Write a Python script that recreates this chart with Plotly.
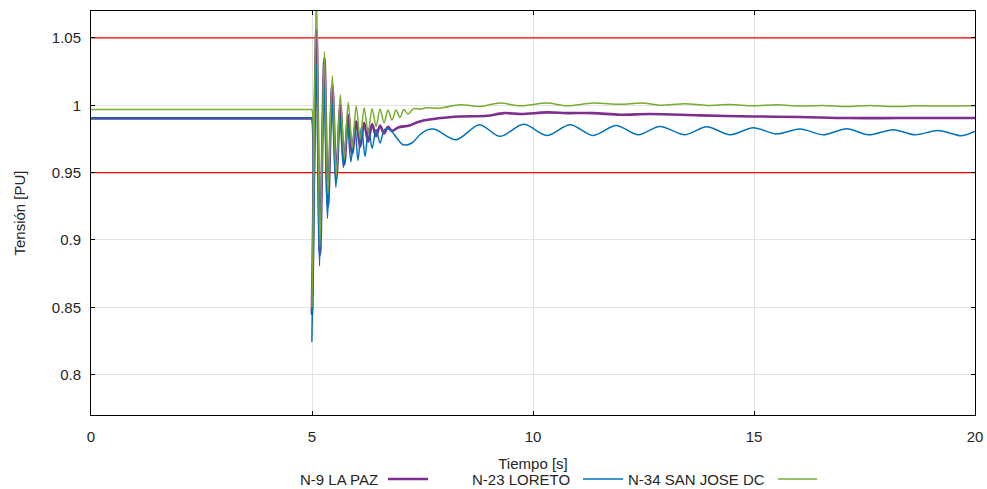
import plotly.graph_objects as go

# Bus voltage response (p.u.) after a disturbance at t = 5 s: (time [s], voltage [PU])
la_paz = [
    (0.0, 0.9903), (2.5, 0.9903), (4.9, 0.9903), (4.97, 0.9903), (4.995, 0.9903),
    (5.0, 0.845), (5.10, 1.056), (5.18, 0.889),
    (5.28, 1.035), (5.36, 0.925), (5.46, 1.015), (5.55, 0.945), (5.64, 1.000),
    (5.73, 0.956), (5.82, 0.993), (5.91, 0.964), (6.00, 0.988), (6.09, 0.969),
    (6.18, 0.987), (6.27, 0.973), (6.36, 0.986), (6.45, 0.977), (6.54, 0.985),
    (6.63, 0.979), (6.72, 0.984), (6.81, 0.981), (6.95, 0.9835), (7.20, 0.985),
    (7.44, 0.988), (7.90, 0.9905), (8.35, 0.9917), (8.96, 0.9922), (9.34, 0.9942),
    (9.73, 0.9935), (10.32, 0.9947), (10.77, 0.9942), (11.36, 0.9942), (11.97, 0.9930),
    (12.65, 0.9935), (13.78, 0.9925), (14.98, 0.9917), (16.04, 0.9913), (17.10, 0.9905),
    (18.30, 0.9905), (20.0, 0.9905),
]

loreto = [
    (0.0, 0.9905), (2.5, 0.9905), (4.9, 0.9905), (4.97, 0.9905), (4.995, 0.9905),
    (5.0, 0.8243), (5.10, 1.030), (5.17, 0.8806),
    (5.27, 1.018), (5.35, 0.916), (5.45, 1.004), (5.54, 0.939), (5.63, 0.992),
    (5.71, 0.9537), (5.80, 0.987), (5.88, 0.958), (5.97, 0.985), (6.04, 0.959),
    (6.12, 0.984), (6.20, 0.962), (6.28, 0.983), (6.36, 0.968), (6.45, 0.982),
    (6.54, 0.972), (6.64, 0.982), (6.76, 0.9819), (6.92, 0.9757), (7.06, 0.9707),
    (7.26, 0.9720), (7.44, 0.9781), (7.62, 0.9819), (7.78, 0.9822), (8.26, 0.9744),
    (8.79, 0.9856), (9.25, 0.9769), (9.79, 0.9859), (10.31, 0.9776), (10.84, 0.9856),
    (11.36, 0.9776), (11.88, 0.9850), (12.38, 0.9781), (12.87, 0.9843), (13.44, 0.9781),
    (13.93, 0.9841), (14.46, 0.9781), (14.98, 0.9833), (15.51, 0.9787), (16.04, 0.9824),
    (16.57, 0.9781), (17.10, 0.9826), (17.59, 0.9781), (18.15, 0.9819), (18.64, 0.9781),
    (19.17, 0.9813), (19.70, 0.9774), (20.0, 0.9807),
]

san_jose = [
    (0.0, 0.9968), (2.5, 0.9968), (4.9, 0.9968), (4.97, 0.9968), (4.995, 0.9968),
    (5.0, 0.8498), (5.10, 1.085), (5.18, 0.8954),
    (5.28, 1.040), (5.36, 0.9337), (5.46, 1.022), (5.55, 0.947), (5.64, 1.008),
    (5.73, 0.960), (5.82, 1.002), (5.91, 0.968), (6.00, 0.9995), (6.09, 0.975),
    (6.18, 0.998), (6.27, 0.980), (6.36, 0.9975), (6.45, 0.984), (6.54, 0.997),
    (6.63, 0.987), (6.72, 0.9965), (6.81, 0.989), (6.90, 0.9965), (6.99, 0.991),
    (7.08, 0.9968), (7.17, 0.9935), (7.30, 0.9975), (7.44, 0.9972), (7.60, 0.9982),
    (7.90, 0.9979), (8.35, 1.0004), (8.80, 0.9991), (9.25, 1.0016), (9.71, 0.9996),
    (10.32, 1.0016), (10.77, 0.9996), (11.36, 1.0016), (11.97, 1.0007), (12.47, 1.0016),
    (12.87, 1.0001), (13.44, 1.0011), (13.94, 0.9999), (14.46, 1.0006), (14.98, 0.9996),
    (15.52, 1.0004), (16.04, 0.9994), (16.56, 0.9999), (17.10, 0.9991), (17.62, 0.9999),
    (18.14, 0.9991), (18.69, 0.9996), (19.21, 0.9994), (19.95, 0.9996), (20.0, 0.9996),
]

# Allowed voltage band
limits = [0.95, 1.05]
t_span = [0.0, 20.0]

series_names = ["N-9 LA PAZ", "N-23 LORETO", "N-34 SAN JOSE DC"]
series_data = [la_paz, loreto, san_jose]
series_colors = ["#7E2F8E", "#0072BD", "#77AC30"]
series_widths = [2.6, 1.5, 1.5]

x_ticks = [0, 5, 10, 15, 20]
y_ticks = [0.8, 0.85, 0.9, 0.95, 1.0, 1.05]
y_tick_text = ["0.8", "0.85", "0.9", "0.95", "1", "1.05"]

fig = go.Figure()

for lim in limits:
    fig.add_trace(go.Scatter(
        x=t_span, y=[lim, lim], mode="lines",
        line=dict(color="#FF0000", width=1.2), showlegend=False, hoverinfo="skip",
    ))

for name, data, color, width in zip(series_names, series_data, series_colors, series_widths):
    t, v = zip(*data)
    fig.add_trace(go.Scatter(
        x=list(t), y=list(v), mode="lines", name=name,
        line=dict(color=color, width=width, shape="spline", smoothing=0.9),
    ))

# Plot-area geometry in pixels (used to place the legend row below the axes)
W, H = 987, 489
L, R, T, B = 91, 12, 11, 74
pw, ph = W - L - R, H - T - B


def px_x(x):
    return (x - L) / pw


def px_y(y):
    return (H - B - y) / ph


legend_y = 480
legend_items = [
    # text right edge, line start, line end
    (380, 388, 428),
    (572, 583, 623),
    (767, 778, 817),
]
annotations = []
shapes = []
for (txt_r, l0, l1), name, color, width in zip(legend_items, series_names, series_colors, series_widths):
    annotations.append(dict(
        x=px_x(txt_r), y=px_y(legend_y), xref="paper", yref="paper",
        text=name, showarrow=False, xanchor="right", yanchor="middle",
        font=dict(size=15, color="#262626"),
    ))
    shapes.append(dict(
        type="line", xref="paper", yref="paper",
        x0=px_x(l0), x1=px_x(l1), y0=px_y(legend_y - 1), y1=px_y(legend_y - 1),
        line=dict(color=color, width=width),
    ))

fig.update_layout(
    width=W, height=H,
    margin=dict(l=L, r=R, t=T, b=B, pad=0, autoexpand=False),
    paper_bgcolor="white", plot_bgcolor="white",
    showlegend=False,
    font=dict(family="Liberation Sans, Arial, sans-serif", size=15, color="#262626"),
    annotations=annotations,
    shapes=shapes,
    xaxis=dict(
        range=[0, 20], tickvals=x_ticks, ticks="inside", ticklen=4, tickcolor="black",
        showline=True, linecolor="black", linewidth=1, mirror="ticks",
        showgrid=True, gridcolor="#e3e3e3", gridwidth=1, zeroline=False,
        automargin=True, ticklabelstandoff=8,
        title=dict(text="Tiempo [s]", standoff=14, font=dict(size=15)),
    ),
    yaxis=dict(
        range=[0.77, 1.07], tickvals=y_ticks, ticktext=y_tick_text,
        ticks="inside", ticklen=4, tickcolor="black",
        showline=True, linecolor="black", linewidth=1, mirror="ticks",
        showgrid=True, gridcolor="#e3e3e3", gridwidth=1, zeroline=False,
        automargin=False, ticklabelstandoff=6,
        title=dict(text="Tensión [PU]", standoff=22, font=dict(size=15)),
    ),
)

fig.write_html("out.html")
